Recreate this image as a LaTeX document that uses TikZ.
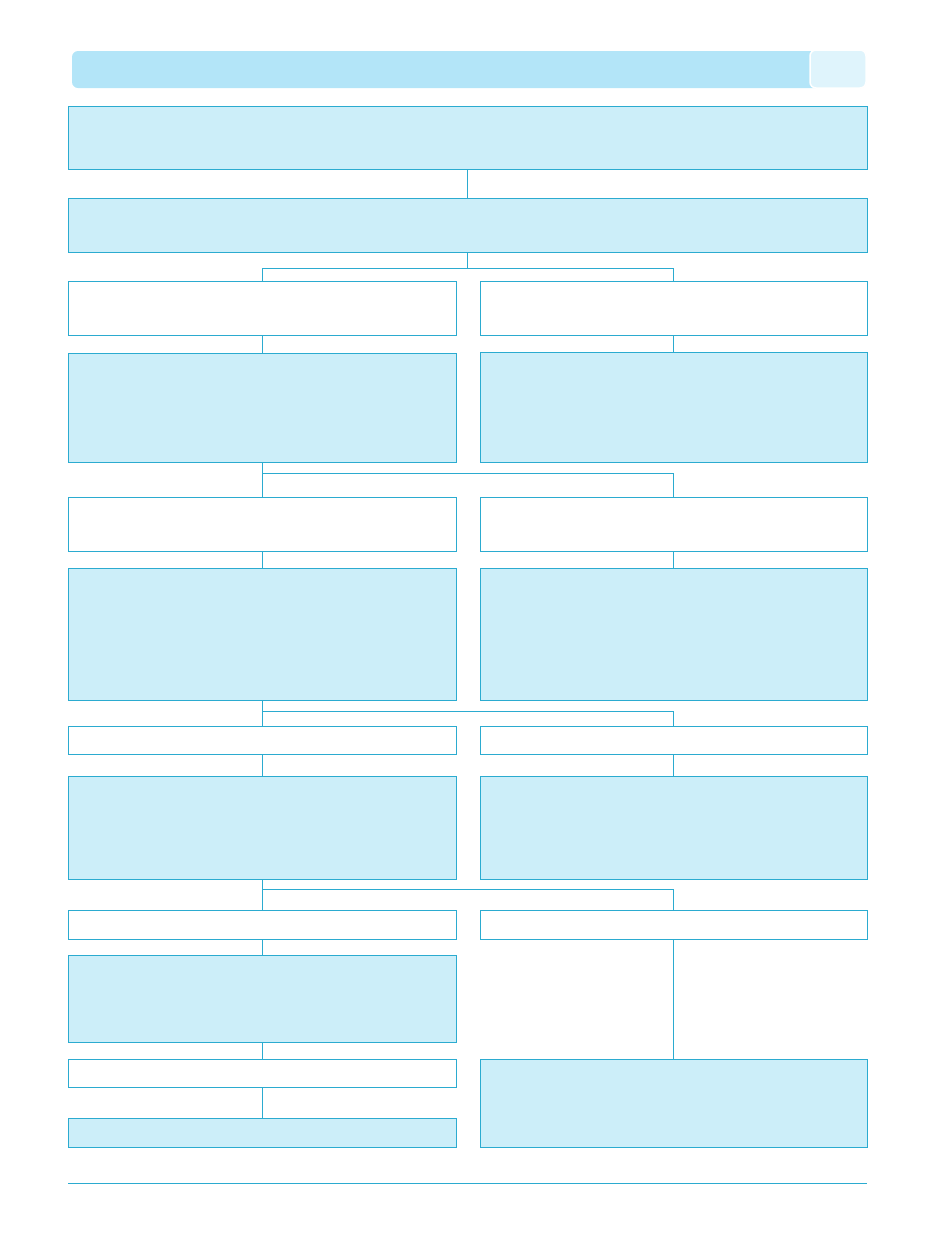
\documentclass[tikz,border=0pt]{standalone}
\usetikzlibrary{fit}
\definecolor{boxfill}{HTML}{CCEEF9}
\definecolor{boxline}{HTML}{2BABD0}
\definecolor{headmain}{HTML}{B3E5F8}
\definecolor{headtab}{HTML}{DFF4FC}
\tikzset{
  bluebox/.style={draw=boxline, fill=boxfill, line width=1pt, inner sep=0pt, outer sep=0pt},
  whitebox/.style={draw=boxline, fill=white, line width=1pt, inner sep=0pt, outer sep=0pt},
  conn/.style={draw=boxline, line width=1pt},
  headbar/.style={fill=headmain, rounded corners=6pt, inner sep=0pt},
  headtabstyle/.style={fill=headtab, draw=white, line width=1.5pt, rounded corners=6pt, inner sep=0pt},
}
\begin{document}
\begin{tikzpicture}[x=1pt,y=-1pt]
\useasboundingbox (0,0) rectangle (935,1254);
% header
\node[headbar, fit={(72,51) (840,88)}] (hbar) {};
\node[headtabstyle, fit={(810,50) (866,88)}] (htab) {};
% full-width boxes
\node[bluebox, fit={(68,106) (867,169)}] (b1) {};
\node[bluebox, fit={(68,198) (867,252)}] (b2) {};
% row 3
\node[whitebox, fit={(68,281) (456,335)}] (l3) {};
\node[whitebox, fit={(480,281) (867,335)}] (r3) {};
% row 4
\node[bluebox, fit={(68,353) (456,462)}] (l4) {};
\node[bluebox, fit={(480,352) (867,462)}] (r4) {};
% row 5
\node[whitebox, fit={(68,497) (456,551)}] (l5) {};
\node[whitebox, fit={(480,497) (867,551)}] (r5) {};
% row 6
\node[bluebox, fit={(68,568) (456,700)}] (l6) {};
\node[bluebox, fit={(480,568) (867,700)}] (r6) {};
% row 7
\node[whitebox, fit={(68,726) (456,754)}] (l7) {};
\node[whitebox, fit={(480,726) (867,754)}] (r7) {};
% row 8
\node[bluebox, fit={(68,776) (456,879)}] (l8) {};
\node[bluebox, fit={(480,776) (867,879)}] (r8) {};
% row 9
\node[whitebox, fit={(68,910) (456,939)}] (l9) {};
\node[whitebox, fit={(480,910) (867,939)}] (r9) {};
% lower left column
\node[bluebox, fit={(68,955) (456,1042)}] (l10) {};
\node[whitebox, fit={(68,1059) (456,1087)}] (l11) {};
\node[bluebox, fit={(68,1118) (456,1147)}] (l12) {};
% lower right
\node[bluebox, fit={(480,1059) (867,1147)}] (r10) {};
% connectors
\draw[conn] (b1.south) -- (b2.north);
\draw[conn] (b2.south) -- ++(0,16.5) coordinate (j1);
\draw[conn] (l3.north) |- (j1) -| (r3.north);
\draw[conn] (l3.south) -- (l4.north);
\draw[conn] (r3.south) -- (r4.north);
\draw[conn] (l4.south) -- (l5.north);
\draw[conn] ([yshift=-11.5pt]l4.south) -| (r5.north);
\draw[conn] (l5.south) -- (l6.north);
\draw[conn] (r5.south) -- (r6.north);
\draw[conn] (l6.south) -- (l7.north);
\draw[conn] ([yshift=-11.5pt]l6.south) -| (r7.north);
\draw[conn] (l7.south) -- (l8.north);
\draw[conn] (r7.south) -- (r8.north);
\draw[conn] (l8.south) -- (l9.north);
\draw[conn] ([yshift=-10.5pt]l8.south) -| (r9.north);
\draw[conn] (l9.south) -- (l10.north);
\draw[conn] (r9.south) -- (r10.north);
\draw[conn] (l10.south) -- (l11.north);
\draw[conn] (l11.south) -- (l12.north);
% bottom rule
\coordinate (ruleL) at (68,1183.5);
\coordinate (ruleR) at (867,1183.5);
\draw[conn] (ruleL) -- (ruleR);
\end{tikzpicture}
\end{document}
